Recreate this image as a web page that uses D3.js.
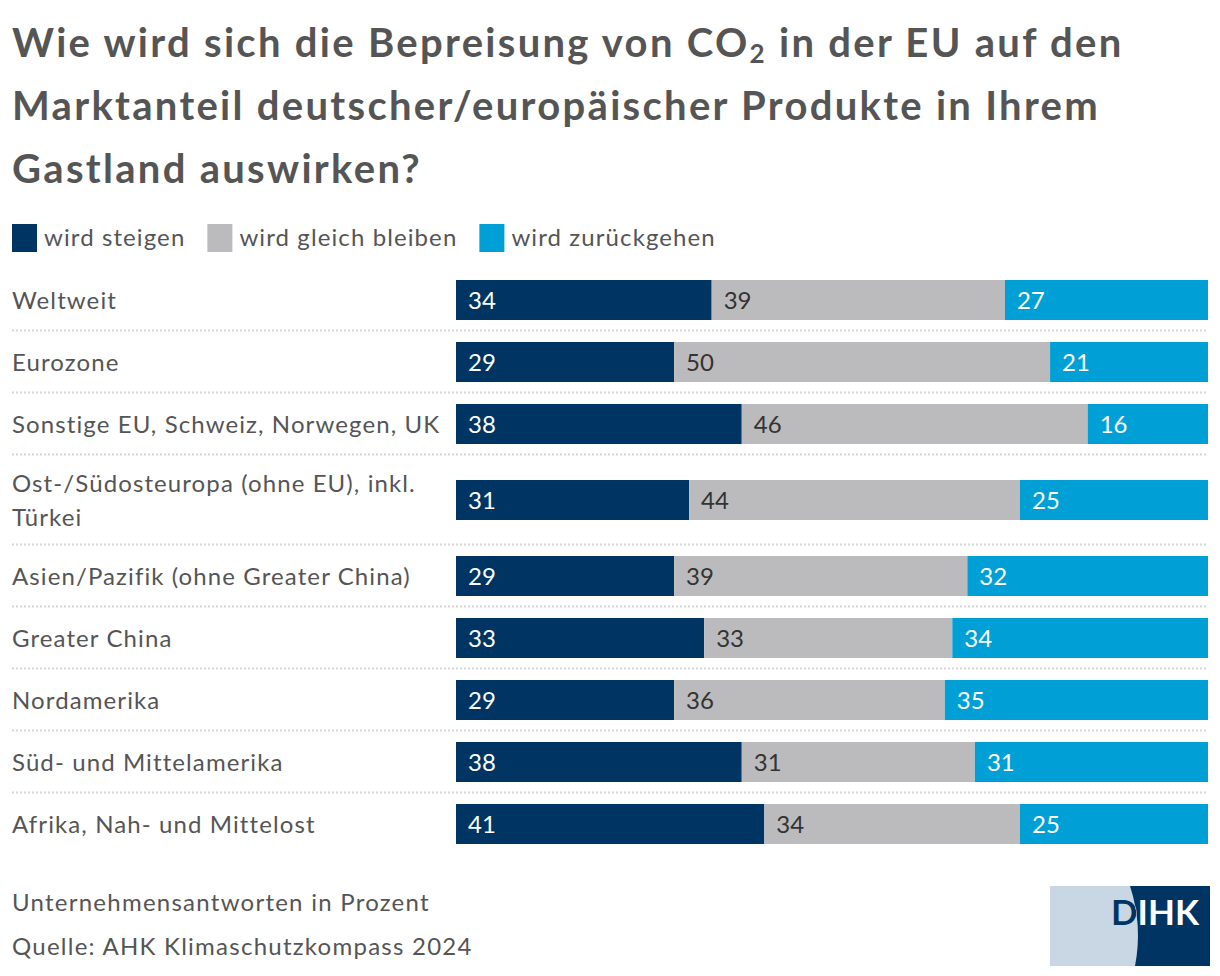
<!DOCTYPE html>
<html>
<head>
<meta charset="utf-8">
<script src="https://cdn.jsdelivr.net/npm/d3@7"></script>
<style>
html,body{margin:0;padding:0;background:#fff;}
svg{display:block;}
text{font-family:"Lato","Noto Sans",sans-serif;}
</style>
</head>
<body>
<script>
const categories = [
  "Weltweit",
  "Eurozone",
  "Sonstige EU, Schweiz, Norwegen, UK",
  "Ost-/Südosteuropa (ohne EU), inkl. Türkei",
  "Asien/Pazifik (ohne Greater China)",
  "Greater China",
  "Nordamerika",
  "Süd- und Mittelamerika",
  "Afrika, Nah- und Mittelost"
];
const seriesNames = ["wird steigen", "wird gleich bleiben", "wird zurückgehen"];
const steigen     = [34, 29, 38, 31, 29, 33, 29, 38, 41];
const gleich      = [39, 50, 46, 44, 39, 33, 36, 31, 34];
const zurueck     = [27, 21, 16, 25, 32, 34, 35, 31, 25];
const titleLines = ["Wie wird sich die Bepreisung von CO₂ in der EU auf den",
                    "Marktanteil deutscher/europäischer Produkte in Ihrem",
                    "Gastland auswirken?"];
const footnotes = ["Unternehmensantworten in Prozent", "Quelle: AHK Klimaschutzkompass 2024"];

const W = 1220, H = 976;
const colors = ["#003462", "#bbbbbd", "#00a0d6"];
const textColors = ["#ffffff", "#333333", "#ffffff"];
const LS = 1.1;

const svg = d3.select("body").append("svg").attr("width", W).attr("height", H);

// Title
const title = svg.append("text").attr("x", 12).attr("fill", "#555555")
  .attr("font-size", 40).attr("font-weight", 700).attr("letter-spacing", 2.3);
titleLines.forEach((l, i) => {
  const t = title.append("tspan").attr("x", 12).attr("y", 57 + i * 63);
  if (l.includes("CO₂")) {
    const parts = l.split("CO₂");
    t.text(parts[0] + "CO");
    t.append("tspan").attr("font-size", 26).attr("dy", 6).text("2");
    t.append("tspan").attr("dy", -6).text(parts[1]);
  } else t.text(l);
});

// Legend
const legend = svg.append("g");
let lx = 12;
seriesNames.forEach((name, i) => {
  const g = legend.append("g");
  g.append("rect").attr("x", lx).attr("y", 224).attr("width", 25).attr("height", 28).attr("fill", colors[i]);
  const t = g.append("text").attr("x", lx + 32).attr("y", 246).attr("font-size", 24)
    .attr("letter-spacing", LS).attr("fill", "#555555").text(name);
  lx += 32 + t.node().getComputedTextLength() + 22;
});

// Layout rows
const xLeft = 456, xRight = 1208;
const x = d3.scaleLinear().domain([0, 100]).range([xLeft, xRight]);
const labelMax = 432;
const measure = svg.append("text").attr("font-size", 24).attr("letter-spacing", LS).attr("visibility", "hidden");
function wrap(str) {
  const words = str.split(" ");
  const lines = [];
  let cur = "";
  words.forEach(w => {
    const test = cur ? cur + " " + w : w;
    measure.text(test);
    if (measure.node().getComputedTextLength() > labelMax && cur) { lines.push(cur); cur = w; }
    else cur = test;
  });
  lines.push(cur);
  return lines;
}
const wrapped = categories.map(wrap);
measure.remove();

const rowTop0 = 269;
const offsets = [];
let acc = rowTop0;
wrapped.forEach(lines => {
  const h = 62 + (lines.length - 1) * 28;
  offsets.push({top: acc, h: h});
  acc += h;
});
const yTop = d3.scaleOrdinal().domain(categories).range(offsets.map(o => o.top));
const yH = d3.scaleOrdinal().domain(categories).range(offsets.map(o => o.h));
const barH = 40;

const data = categories.map((c, i) => ({cat: c, lines: wrapped[i], vals: [steigen[i], gleich[i], zurueck[i]]}));

// separators
data.slice(1).forEach(d => {
  svg.append("line").attr("x1", 12).attr("x2", xRight)
    .attr("y1", yTop(d.cat) - 0.5).attr("y2", yTop(d.cat) - 0.5)
    .attr("stroke", "#d6d6d6").attr("stroke-width", 2).attr("stroke-dasharray", "2,2");
});

const rows = svg.selectAll("g.row").data(data).enter().append("g").attr("class", "row");
rows.each(function(d) {
  const g = d3.select(this);
  const cy = yTop(d.cat) + yH(d.cat) / 2;
  const n = d.lines.length;
  const lt = g.append("text").attr("font-size", 24).attr("letter-spacing", LS).attr("fill", "#555555");
  d.lines.forEach((l, k) => {
    lt.append("tspan").attr("x", 12).attr("y", cy + 8.5 + (k - (n - 1) / 2) * 34).text(l);
  });
  let cum = 0;
  d.vals.forEach((v, k) => {
    g.append("rect").attr("x", x(cum)).attr("y", cy - barH / 2)
      .attr("width", x(cum + v) - x(cum)).attr("height", barH).attr("fill", colors[k]);
    g.append("text").attr("x", x(cum) + 12).attr("y", cy + 8.5).attr("font-size", 24)
      .attr("fill", textColors[k]).text(v);
    cum += v;
  });
});

// Footnotes
footnotes.forEach((f, i) => {
  svg.append("text").attr("x", 12).attr("y", 911 + i * 44).attr("font-size", 24)
    .attr("letter-spacing", 1.25).attr("fill", "#555555").text(f);
});

// Logo
const logo = svg.append("g");
const defs = svg.append("defs");
defs.append("clipPath").attr("id", "logoClip").append("rect")
  .attr("x", 1050).attr("y", 886).attr("width", 160).attr("height", 80);
const arcPath = "M1050,886 L1130,886 A160,160 0 0 1 1135,966 L1050,966 Z";
defs.append("clipPath").attr("id", "lightClip").append("path").attr("d", arcPath);
logo.append("rect").attr("x", 1050).attr("y", 886).attr("width", 160).attr("height", 80).attr("fill", "#003462");
logo.append("path").attr("d", arcPath).attr("fill", "#c9d6e4").attr("clip-path", "url(#logoClip)");
logo.append("text").attr("x", 1111).attr("y", 925).attr("font-size", 35).attr("font-weight", 700)
  .attr("font-family", "Roboto, sans-serif").attr("fill", "#ffffff").text("DIHK");
logo.append("text").attr("x", 1111).attr("y", 925).attr("font-size", 35).attr("font-weight", 700)
  .attr("font-family", "Roboto, sans-serif").attr("fill", "#003462")
  .attr("clip-path", "url(#lightClip)").text("DIHK");
</script>
</body>
</html>
